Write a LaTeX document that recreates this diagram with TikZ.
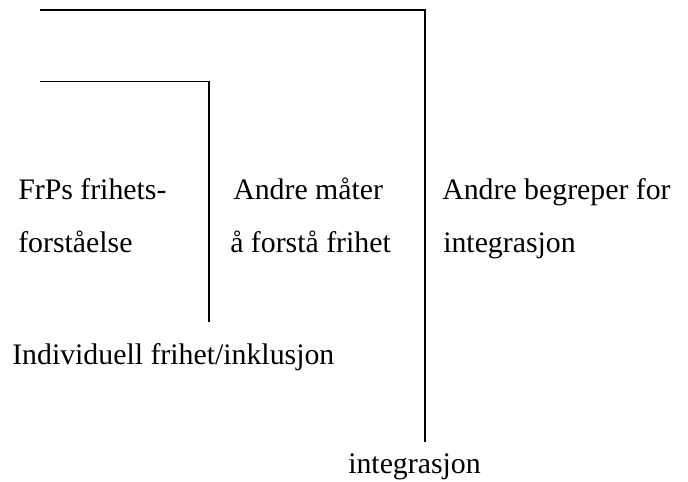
\documentclass[tikz,border=0pt]{standalone}
\usepackage{fontspec}
\setmainfont{Liberation Serif}
\usepackage{tikz}

\begin{document}
\begin{tikzpicture}[every node/.style={anchor=base west, inner sep=0pt, font=\fontsize{21.2}{25}\selectfont}, bracket/.style={line width=1.4pt}]
  \useasboundingbox (0,0) rectangle (17.2,12.025);
  \coordinate (outerstart) at (1.0,11.775);
  \coordinate (outercorner) at (10.625,11.775);
  \coordinate (outerend) at (10.625,0.975);
  \coordinate (innerstart) at (1.0,9.9875);
  \coordinate (innercorner) at (5.225,9.9875);
  \coordinate (innerend) at (5.225,3.975);
  \node (frp1) at (0.45,7.05) {FrPs frihets-};
  \node (frp2) at (0.45,5.725) {forståelse};
  \node (andre1) at (5.825,7.05) {Andre måter};
  \node (andre2) at (5.75,5.725) {å forstå frihet};
  \node (begrep1) at (11.05,7.05) {Andre begreper for};
  \node (begrep2) at (11.075,5.725) {integrasjon};
  \node (indiv) at (0.3,2.925) {Individuell frihet/inklusjon};
  \node (integ) at (8.7,0.2) {integrasjon};
  \draw[bracket] (outerstart) -- (outercorner) -- (outerend);
  \draw[bracket] (innerstart) -- (innercorner) -- (innerend);
\end{tikzpicture}
\end{document}
